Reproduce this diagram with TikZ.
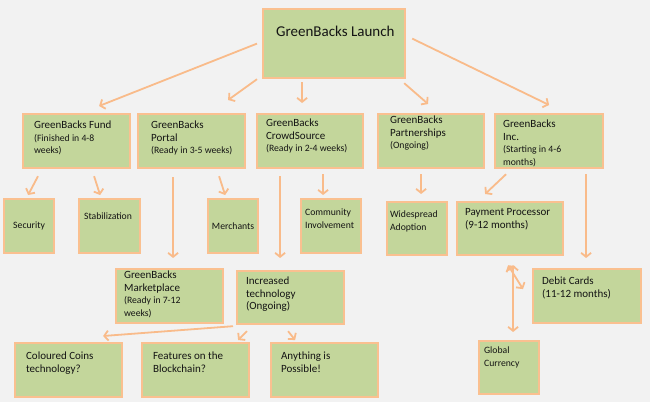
\documentclass[tikz,border=0pt]{standalone}
\usepackage{fontspec}
\setmainfont{Carlito}
\usetikzlibrary{arrows.meta}
\definecolor{gbfill}{RGB}{195,214,155}
\definecolor{gbedge}{RGB}{250,192,144}
\definecolor{gbarrow}{RGB}{249,187,138}
\definecolor{gbback}{RGB}{242,242,242}
\newcommand{\gbfont}{\fontsize{11}{12.5}\selectfont}
\newcommand{\gbsmall}{\fontsize{9.7}{12.5}\selectfont}
\newcommand{\gbtext}[3]{\parbox[t][#2][t]{#1}{\begin{tabular}[t]{@{}l@{}}#3\end{tabular}}}
\tikzset{
    gbox/.style={
        draw=gbedge,
        fill=gbfill,
        line width=2.2pt,
        anchor=north west,
        font=\gbfont,
        text=black!92
    },
    link/.style={
        draw=gbarrow,
        line width=1.8pt,
        -{Straight Barb[length=4pt,width=10pt]}
    },
    twolink/.style={
        link,
        {Straight Barb[length=4pt,width=10pt]}-{Straight Barb[length=4pt,width=10pt]}
    }
}

\begin{document}
\begin{tikzpicture}[x=1pt,y=-1pt]
  \useasboundingbox[fill=gbback] (0,0) rectangle (650,402);

  \node at (262,8) (launch) [gbox, inner xsep=13pt, inner ysep=14.4pt]
    {\fontsize{15}{18}\selectfont\gbtext{116pt}{40.2pt}{GreenBacks Launch}};

  % second row
  \node at (22,113) (fund) [gbox, inner xsep=11pt, inner ysep=6pt]
    {\gbtext{85pt}{42pt}{GreenBacks Fund\\ \gbsmall (Finished in 4-8\\ \gbsmall weeks)}};
  \node at (137,113) (portal) [gbox, inner xsep=13pt, inner ysep=6pt]
    {\gbtext{81pt}{42pt}{GreenBacks\\ Portal\\ \gbsmall (Ready in 3-5 weeks)}};
  \node at (256,113) (crowd) [gbox, inner xsep=9pt, inner ysep=4pt]
    {\gbtext{88pt}{46pt}{GreenBacks\\ CrowdSource\\ \gbsmall (Ready in 2-4 weeks)}};
  \node at (377,113) (partner) [gbox, inner xsep=12pt, inner ysep=1pt]
    {\gbtext{82pt}{52pt}{GreenBacks\\ Partnerships\\ \gbsmall (Ongoing)}};
  \node at (494,113) (inc) [gbox, inner xsep=8pt, inner ysep=5pt]
    {\gbtext{92pt}{44pt}{GreenBacks\\ Inc.\\ \gbsmall (Starting in 4-6\\ \gbsmall months)}};

  % third row
  \node at (3,198) (secur) [gbox, inner sep=0pt, minimum width=50pt, minimum height=54pt, font=\gbsmall] {Security};
  \node at (78,198) (stab) [gbox, inner xsep=5pt, inner ysep=11.75pt]
    {\gbtext{51pt}{30.5pt}{\gbsmall Stabilization}};
  \node at (207,198) (merch) [gbox, inner sep=0pt, minimum width=50pt, minimum height=54pt, font=\gbsmall] {Merchants};
  \node at (300,198) (commun) [gbox, inner xsep=4pt, inner ysep=8pt]
    {\gbtext{52pt}{38pt}{\gbsmall Community\\ \gbsmall Involvement}};
  \node at (386,201) (adopt) [gbox, inner xsep=3pt, inner ysep=7pt]
    {\gbtext{54pt}{39pt}{\gbsmall Widespread\\ \gbsmall Adoption}};
  \node at (456,201) (payproc) [gbox, inner xsep=8pt, inner ysep=4.75pt]
    {\gbtext{90pt}{43.5pt}{Payment Processor\\ (9-12 months)}};

  % fourth row
  \node at (115,268) (market) [gbox, inner xsep=8pt, inner ysep=0.75pt]
    {\gbtext{91pt}{52.5pt}{GreenBacks\\ Marketplace\\ \gbsmall (Ready in 7-12\\ \gbsmall weeks)}};
  \node at (236,270) (tech) [gbox, inner xsep=9pt, inner ysep=4.75pt]
    {\gbtext{89pt}{43.5pt}{Increased\\ technology\\ (Ongoing)}};
  \node at (532,268) (debit) [gbox, inner xsep=9pt, inner ysep=6.75pt]
    {\gbtext{90pt}{40.5pt}{Debit Cards\\ (11-12 months)}};

  % last row
  \node at (14,342) (coins) [gbox, inner xsep=11pt, inner ysep=7.75pt]
    {\gbtext{85pt}{38.5pt}{Coloured Coins\\ technology?}};
  \node at (141,342) (chain) [gbox, inner xsep=11pt, inner ysep=7.75pt]
    {\gbtext{85pt}{38.5pt}{Features on the\\ Blockchain?}};
  \node at (270,342) (anything) [gbox, inner xsep=10pt, inner ysep=7.75pt]
    {\gbtext{87pt}{38.5pt}{Anything is\\ Possible!}};
  \node at (478,340) (global) [gbox, inner xsep=5pt, inner ysep=3.75pt]
    {\gbtext{50pt}{45.5pt}{\gbsmall Global\\ \gbsmall Currency}};

  \draw[link] ([shift={(-5,0)}]launch.west) -- ([shift={(22.5,-7)}]fund.north);
  \draw[link] ([shift={(-5,0)}]launch.south west) -- ([shift={(36.5,-13)}]portal.north);
  \draw[link] ([shift={(-32,3)}]launch.south) -- ([shift={(-8,-10)}]crowd.north);
  \draw[link] ([shift={(-2,4)}]launch.south east) -- ([shift={(-3,-9)}]partner.north);
  \draw[link] ([shift={(6,-5)}]launch.east) -- ([shift={(0,-8)}]inc.north);

  \draw[link] ([shift={(16,7)}]fund.south west) -- ([shift={(-1,-3)}]secur.north);
  \draw[link] ([shift={(17.5,7)}]fund.south) -- ([shift={(-9.5,-3)}]stab.north);
  \draw[link] ([shift={(-18.5,8)}]portal.south) -- ([shift={(3.5,-10)}]market.north);
  \draw[link] ([shift={(27.5,7)}]portal.south) -- ([shift={(-8,-3)}]merch.north);
  \draw[link] ([shift={(-30,7)}]crowd.south) -- ([shift={(-10.5,-12)}]tech.north);
  \draw[link] ([shift={(13,5)}]crowd.south) -- ([shift={(-8,-3)}]commun.north);
  \draw[link] ([shift={(-10,5)}]partner.south) -- ([shift={(4,-7)}]adopt.north);
  \draw[link] ([shift={(-43,5)}]inc.south) -- ([shift={(-25,-7)}]payproc.north);
  \draw[link] ([shift={(37,5)}]inc.south) -- ([shift={(-1,-10)}]debit.north);

  \draw[twolink] ([shift={(-2,9)}]payproc.south) -- ([shift={(-9,-7)}]debit.west);
  \draw[twolink] ([shift={(3,9)}]payproc.south) -- ([shift={(4,-8)}]global.north);

  \draw[link] ([shift={(-3,1)}]tech.south west) -- ([shift={(34.5,-6)}]coins.north);
  \draw[link] ([shift={(11,6)}]tech.south west) -- ([shift={(42.5,-2)}]chain.north);
  \draw[link] ([shift={(-2.5,6)}]tech.south) -- ([shift={(-29.5,-2)}]anything.north);

\end{tikzpicture}
\end{document}
